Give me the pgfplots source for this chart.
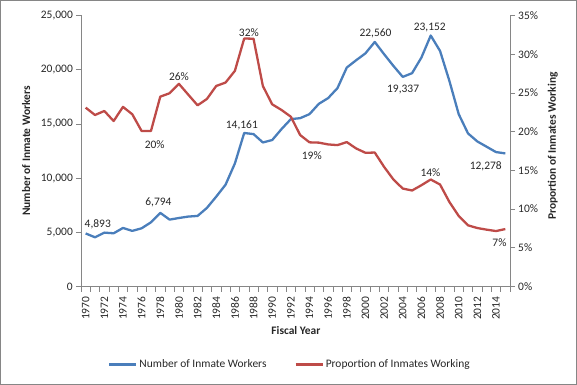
\documentclass[border=0pt]{standalone}
\usepackage{pgfplots}
\pgfplotsset{compat=1.18}
\usepackage{fontspec}
\setmainfont{Carlito}
\definecolor{xlblue}{HTML}{4A7EBB}
\definecolor{xlred}{HTML}{BE4B48}
\definecolor{axgray}{HTML}{868686}
\definecolor{txt}{HTML}{262626}

\pgfplotstableread{
year workers
1970 4893
1971 4540
1972 4970
1973 4910
1974 5400
1975 5130
1976 5370
1977 5920
1978 6794
1979 6170
1980 6320
1981 6450
1982 6510
1983 7250
1984 8290
1985 9390
1986 11350
1987 14161
1988 14060
1989 13290
1990 13510
1991 14520
1992 15440
1993 15530
1994 15900
1995 16850
1996 17380
1997 18300
1998 20200
1999 20870
2000 21510
2001 22560
2002 21430
2003 20350
2004 19337
2005 19680
2006 21120
2007 23152
2008 21730
2009 18970
2010 15900
2011 14120
2012 13380
2013 12890
2014 12400
2015 12278
}\workers

\pgfplotstableread{
year prop
1970 23.1
1971 22.15
1972 22.67
1973 21.37
1974 23.2
1975 22.24
1976 20.08
1977 20.08
1978 24.52
1979 24.96
1980 26.17
1981 24.78
1982 23.4
1983 24.22
1984 25.9
1985 26.34
1986 27.85
1987 32.03
1988 32.0
1989 25.9
1990 23.53
1991 22.8
1992 21.93
1993 19.56
1994 18.62
1995 18.58
1996 18.35
1997 18.26
1998 18.65
1999 17.83
2000 17.27
2001 17.3
2002 15.45
2003 13.82
2004 12.65
2005 12.4
2006 13.08
2007 13.82
2008 13.17
2009 10.92
2010 9.11
2011 7.9
2012 7.55
2013 7.34
2014 7.16
2015 7.42
}\prop

\tikzset{dlabel/.style={font=\fontsize{11.5}{13}\selectfont, text=txt, inner sep=0pt}}

\begin{document}
\begin{tikzpicture}
\useasboundingbox (-81bp,-98.5bp) rectangle (496bp,286.5bp);
\pgfplotsset{
  every axis/.append style={
    scale only axis, width=429bp, height=271bp,
    xmin=1969.5, xmax=2015.5,
    font=\fontsize{11.5}{13}\selectfont,
    text=txt,
    axis line style={axgray},
    tick style={axgray, line width=0.6pt},
    tick align=outside,
    major tick length=5bp,
    minor tick length=5bp,
    clip=false,
    scaled ticks=false,
  },
}
\begin{axis}[
  at={(0,0)}, anchor=south west,
  axis y line*=left, axis x line*=bottom,
  ymin=0, ymax=25000,
  ytick={0,5000,10000,15000,20000,25000},
  yticklabels={0,{5,000},{10,000},{15,000},{20,000},{25,000}},
  yticklabel style={inner sep=1bp, xshift=-2bp},
  xtick={1970,1972,...,2014},
  xticklabels={1970,1972,1974,1976,1978,1980,1982,1984,1986,1988,1990,1992,1994,1996,1998,2000,2002,2004,2006,2008,2010,2012,2014},
  major x tick style={draw=none},
  minor xtick={1969.5,1970.5,...,2015.6},
  minor x tick style={axgray, line width=0.6pt},
  xticklabel style={rotate=90, anchor=east, inner sep=1bp, yshift=0bp, xshift=-4bp},
  xlabel={Fiscal Year},
  xlabel style={at={(axis description cs:0.501,-0.164)}, anchor=center, font=\fontsize{11.5}{13}\selectfont\bfseries},
  ylabel={Number of Inmate Workers},
  every axis y label/.style={at={(axis description cs:-0.128,0.5)}, rotate=90, anchor=center, font=\fontsize{11.5}{13}\selectfont\bfseries, text=txt},
]
\addplot[xlblue, line width=2.3pt, line join=round, no marks] table[x=year,y=workers]{\workers};
\node[dlabel] at (axis cs:1971.3,5700) {4,893};
\node[dlabel] at (axis cs:1977.8,7730) {6,794};
\node[dlabel] at (axis cs:1986.75,14900) {14,161};
\node[dlabel] at (axis cs:2001.08,23358) {22,560};
\node[dlabel] at (axis cs:2006.9,23920) {23,152};
\node[dlabel] at (axis cs:2004.04,18200) {19,337};
\node[dlabel] at (axis cs:2012.9,11116) {12,278};
\end{axis}
\begin{axis}[
  at={(0,0)}, anchor=south west,
  axis y line*=right, axis x line=none,
  ymin=0, ymax=35,
  ytick={0,5,...,35},
  yticklabels={0\%,5\%,10\%,15\%,20\%,25\%,30\%,35\%},
  yticklabel style={inner sep=1bp, xshift=2bp},
  ylabel={Proportion of Inmates Working},
  every axis y label/.style={at={(axis description cs:1.100,0.518)}, rotate=90, anchor=center, font=\fontsize{11.5}{13}\selectfont\bfseries, text=txt},
  legend style={at={(axis description cs:0.487,-0.288)}, anchor=center, draw=none, fill=none, legend columns=2,
    font=\fontsize{11.5}{13}\selectfont, text=txt,
    /tikz/every even column/.append style={column sep=26bp},
    inner sep=0pt},
  legend image code/.code={\draw[#1] (0bp,0bp) -- (27bp,0bp);},
]
\addlegendimage{xlblue, line width=2.3pt}
\addlegendentry{Number of Inmate Workers}
\addplot[xlred, line width=2.3pt, line join=round, no marks] table[x=year,y=prop]{\prop};
\addlegendentry{Proportion of Inmates Working}
\node[dlabel] at (axis cs:1987.5,32.84) {32\%};
\node[dlabel] at (axis cs:1980.0,27.12) {26\%};
\node[dlabel] at (axis cs:1977.4,18.38) {20\%};
\node[dlabel] at (axis cs:1994.25,16.9) {19\%};
\node[dlabel] at (axis cs:2006.97,14.75) {14\%};
\node[dlabel] at (axis cs:2014.37,5.66) {7\%};
\end{axis}
\draw[axgray, line width=0.8pt] (-80.5bp,-98bp) rectangle (495.5bp,286bp);
\end{tikzpicture}
\end{document}
